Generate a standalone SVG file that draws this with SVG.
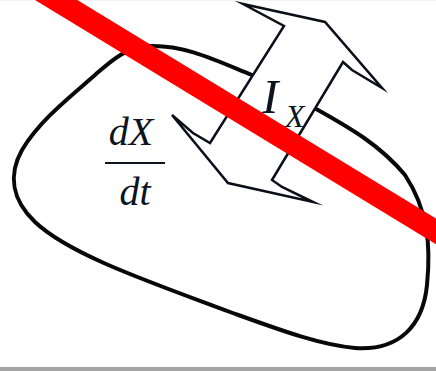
<svg xmlns="http://www.w3.org/2000/svg" width="436" height="371" viewBox="0 0 436 371">
  <style>
    .outline { fill: none; stroke: #080808; stroke-width: 4; stroke-linejoin: round; }
    .arrow { fill: #ffffff; stroke: #0a0f1a; stroke-width: 2.5; stroke-linejoin: miter; stroke-miterlimit: 10; }
    .math { font-family: "Liberation Serif", "Times New Roman", serif; font-style: italic; fill: #0c1420; }
    .bar { stroke: #0c1420; stroke-width: 2; }
    .strike { stroke: #ff0000; stroke-width: 22; stroke-linecap: butt; }
  </style>
  <rect x="0" y="0" width="436" height="371" fill="#ffffff"/>
  <rect x="0" y="0" width="436" height="1" fill="#f4f4f4"/>
  <rect x="0" y="367" width="436" height="4" fill="#a4a4a4"/>

  <g id="region">
    <path class="outline" d="M 252,75 C 215,60 185,45 150,46 C 125,47 110,62 95,75 C 70,97 40,120 22,150 C 8,175 12,200 35,222 C 70,255 150,282 230,312 C 280,330 320,345 355,348 C 400,351 423,325 427,285 C 431,245 428,210 405,175 C 380,145 350,128 318,110 Z"/>
  </g>

  <g id="connectors">
    <polygon class="arrow" points="243,4 325,22 382,88 352,70 343,62 272,180 282,187 313,202 228,183 172,115 193,133 210,143 284,26"/>
  </g>

  <g id="label-ix">
    <text class="math" x="262" y="113" font-size="49">I</text>
    <text class="math" x="285" y="127" font-size="32">X</text>
  </g>

  <g id="label-dxdt">
    <text class="math" x="131" y="145" font-size="40" text-anchor="middle">dX</text>
    <line class="bar" x1="105" y1="163" x2="165" y2="163"/>
    <text class="math" x="135" y="205" font-size="40" text-anchor="middle">dt</text>
  </g>

  <g id="strike">
    <line class="strike" x1="20" y1="-22" x2="470" y2="252"/>
  </g>
</svg>
